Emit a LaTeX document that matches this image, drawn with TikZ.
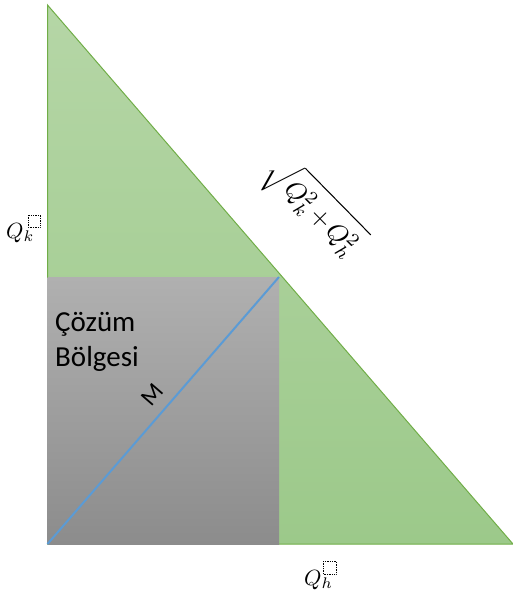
\documentclass[tikz,border=0pt]{standalone}
\usepackage{fontspec}
\setmainfont{Carlito}
\usepackage{amsmath}
\newcommand{\mybigmath}[2][2.2]{\scalebox{#1}{$#2$}}
\begin{document}
\begin{tikzpicture}[x=1pt,y=-1pt,
  lbl/.style={inner sep=0pt, font=\fontsize{29}{35}\selectfont},
  mlbl/.style={inner sep=0pt},
  dbox/.style={densely dotted, line width=0.7pt, black}]
\useasboundingbox (0,0) rectangle (513,595);
\definecolor{gtop}{HTML}{B5D6A6}
\definecolor{gbot}{HTML}{9CC98A}
\definecolor{gline}{HTML}{70AD47}
\definecolor{stop}{HTML}{B0B0B0}
\definecolor{sbot}{HTML}{8C8C8C}
\definecolor{mblue}{HTML}{5B9BD5}
\coordinate (T) at (47.5,5);
\coordinate (O) at (47.5,544);
\coordinate (R) at (513,544);
\coordinate (S) at (279,277);
\shade[top color=gtop, bottom color=gbot] (T) -- (O) -- (R) -- cycle;
\draw[gline, line width=1pt] (T) -- (O) -- (R) -- cycle;
\shade[top color=stop, bottom color=sbot] (O) rectangle (S);
\draw[mblue, line width=2pt] (O) -- (S);
\node[lbl, anchor=base west] (cz1) at (55,331.5) {Çözüm};
\node[lbl, anchor=base west] (cz2) at (55,366.5) {Bölgesi};
\node[inner sep=0pt, font=\fontsize{24}{28}\selectfont, rotate=49.2] (m) at (152,395) {M};
\node[mlbl, anchor=base west] (qk) at (6,238) {\mybigmath{Q_k}};
\draw[dbox] (28,215) rectangle (40,227);
\node[mlbl, anchor=base west] (qh) at (304,585) {\mybigmath{Q_h}};
\draw[dbox] (323,561) rectangle (336,574);
\node[mlbl, rotate=-45.5] (hyp) at (313,208) {\mybigmath[2.6]{\sqrt{\rule[-3pt]{0pt}{11.5pt}Q_k^2\mkern2mu{+}\mkern2mu Q_h^2}}};
\end{tikzpicture}
\end{document}
